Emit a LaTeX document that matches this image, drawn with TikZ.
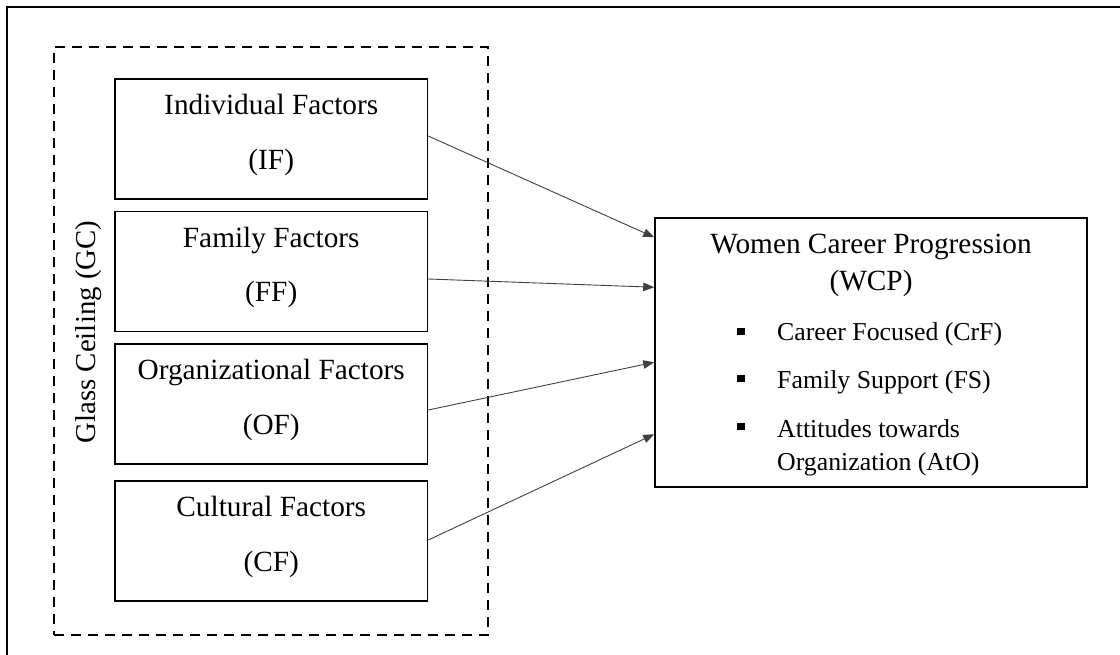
\documentclass[tikz,border=0pt]{standalone}
\usepackage{fontspec}
\setmainfont{Liberation Serif}
\usetikzlibrary{arrows.meta}
\newcommand{\mainsize}{\fontsize{29.3}{35}\selectfont}
\newcommand{\bulsize}{\fontsize{25.8}{31}\selectfont}
\newcommand{\gcsize}{\fontsize{28.8}{34}\selectfont}
\tikzset{
  factorbox/.style={draw=black, line width=1.5pt, rectangle, inner sep=0pt,
    minimum width=312.5pt, minimum height=120pt},
  txt/.style={anchor=base, inner sep=0pt, font=\mainsize},
  bultxt/.style={anchor=base west, inner sep=0pt, font=\bulsize},
  bulsq/.style={fill=black, rectangle, inner sep=0pt, minimum size=7.5pt},
  arr/.style={draw=black!75, line width=0.9pt, -{Triangle[length=11pt,width=8.5pt]}},
  gcbox/.style={draw=black, line width=2pt, dash pattern=on 10pt off 7pt, rectangle,
    inner sep=0pt, minimum width=434pt, minimum height=588pt},
}
\begin{document}
\begin{tikzpicture}[x=1pt,y=-1pt]
\useasboundingbox (0,0) rectangle (1120,654);
% outer frame (only top and left edges inside the picture)
\coordinate (frameTR) at (1125,7);
\coordinate (frameTL) at (7,7);
\coordinate (frameBL) at (7,660);
\draw[line width=1.5pt] (frameTR) -- (frameTL) -- (frameBL);

% dashed glass-ceiling frame
\node[gcbox] (gc) at (271,341) {};
\node[rotate=90, anchor=base, inner sep=0pt, font=\gcsize] (gclabel) at (95,332) {Glass Ceiling (GC)};

% factor boxes
\node[factorbox] (if) at (271.25,139) {};
\node[factorbox] (ff) at (271.25,271.5) {};
\node[factorbox] (of) at (271.25,404) {};
\node[factorbox] (cf) at (271.25,541) {};

\node[txt] (if1) at (271.25,114.5) {Individual Factors};
\node[txt] (if2) at (271.25,169) {(IF)};
\node[txt] (ff1) at (271.25,247) {Family Factors};
\node[txt] (ff2) at (271.25,301.5) {(FF)};
\node[txt] (of1) at (271.25,379.5) {Organizational Factors};
\node[txt] (of2) at (271.25,434) {(OF)};
\node[txt] (cf1) at (271.25,516.5) {Cultural Factors};
\node[txt] (cf2) at (271.25,571) {(CF)};

% outcome box
\node[draw=black, line width=1.5pt, rectangle, inner sep=0pt,
  minimum width=432pt, minimum height=269pt] (wcp) at (871,352.5) {};
\node[txt] (wcp1) at (871,253) {Women Career Progression};
\node[txt] (wcp2) at (871,290) {(WCP)};

\node[bulsq] (b1) at (741,331.5) {};
\node[bulsq] (b2) at (741,378.5) {};
\node[bulsq] (b3) at (741,426.5) {};
\node[bultxt] (t1) at (777,340) {Career Focused (CrF)};
\node[bultxt] (t2) at (777,388) {Family Support (FS)};
\node[bultxt] (t3) at (777,437) {Attitudes towards};
\node[bultxt] (t4) at (777,470) {Organization (AtO)};

% arrows
\draw[arr] ([yshift=3pt]if.east) -- ([yshift=-20pt]wcp.north west);
\draw[arr] ([yshift=-7.5pt]ff.east) -- ([yshift=-70pt]wcp.north west);
\draw[arr] ([yshift=-6pt]of.east) -- ([yshift=-145pt]wcp.north west);
\draw[arr] ([yshift=1pt]cf.east) -- ([yshift=-217pt]wcp.north west);
\end{tikzpicture}
\end{document}
